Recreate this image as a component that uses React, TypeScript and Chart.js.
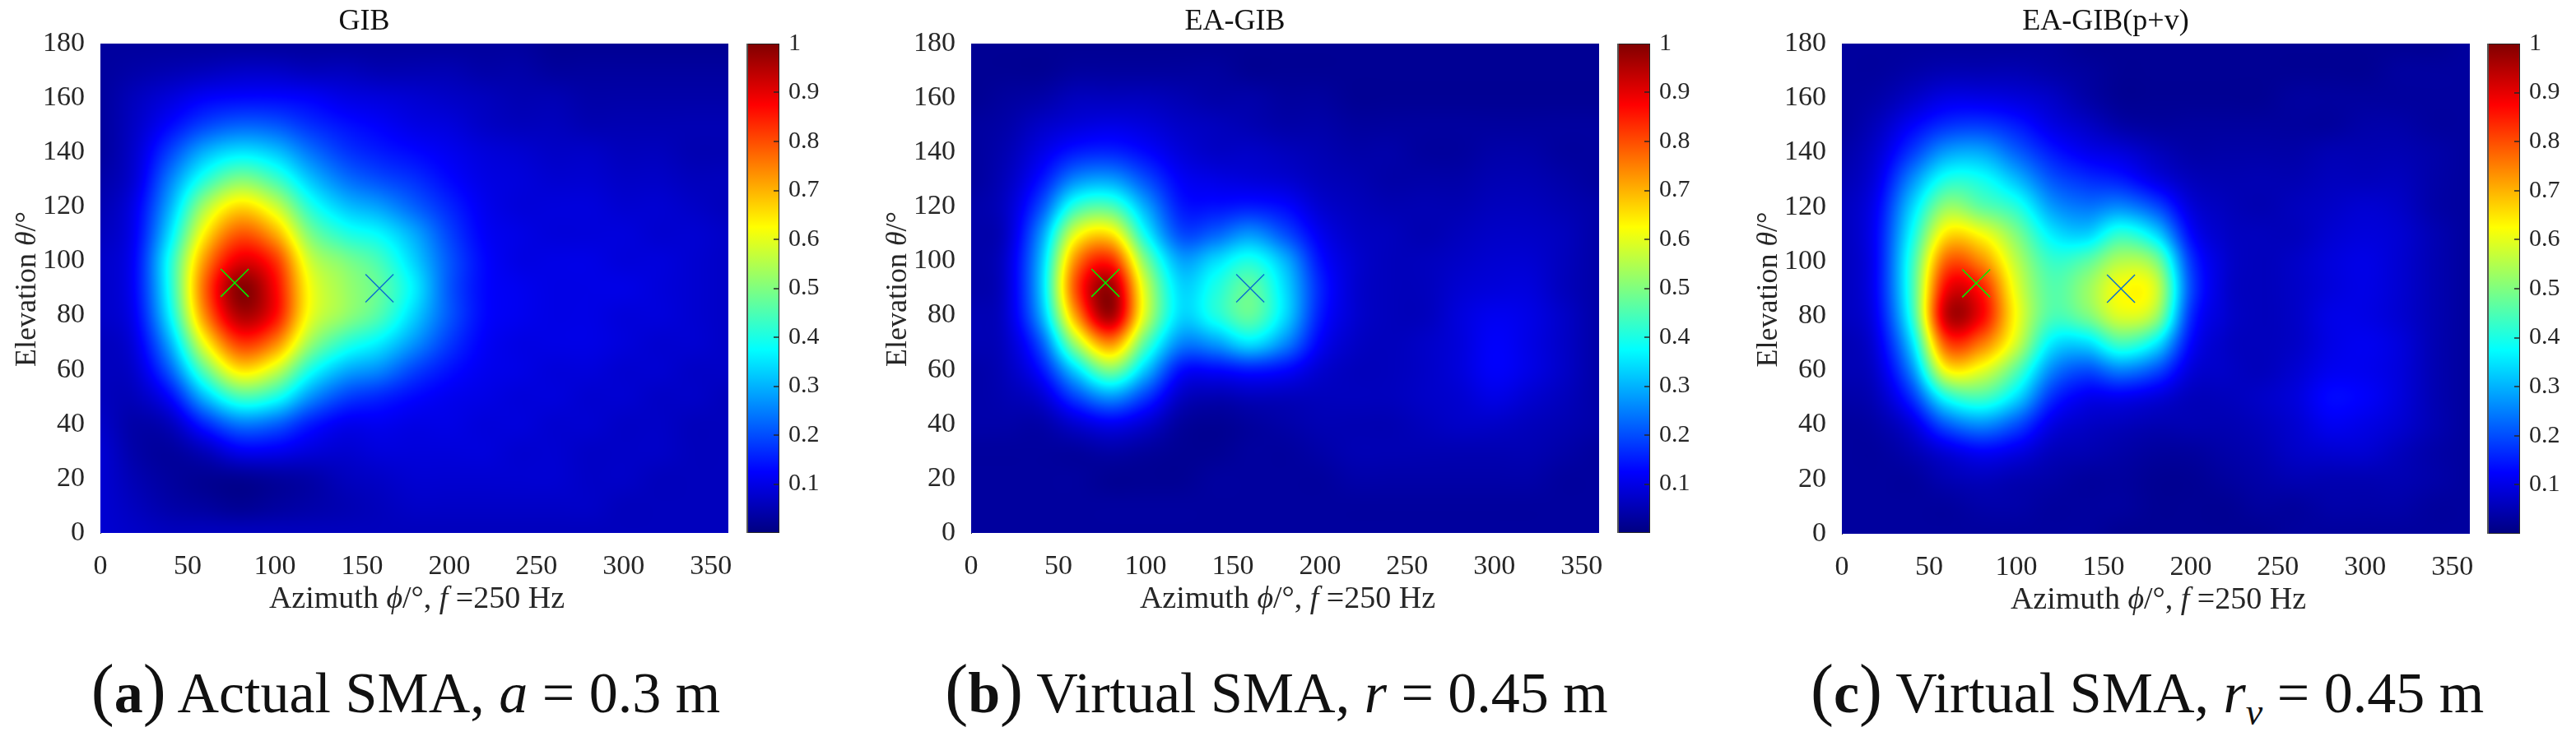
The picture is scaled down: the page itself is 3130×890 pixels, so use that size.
import React, { useEffect, useRef } from "react";
import { Chart, registerables } from "chart.js";

Chart.register(...registerables);

const azimuthNodes = [0, 20, 40, 60, 80, 100, 120, 140, 160, 180, 200, 220, 240, 260, 280, 300, 320, 340, 360];
const elevationNodes = [180, 170, 160, 150, 140, 130, 120, 110, 100, 90, 80, 70, 60, 50, 40, 30, 20, 10, 0];
const azimuthTicks = [0, 50, 100, 150, 200, 250, 300, 350];
const elevationTicks = [0, 20, 40, 60, 80, 100, 120, 140, 160, 180];
const colorbarTicks = [0.1, 0.2, 0.3, 0.4, 0.5, 0.6, 0.7, 0.8, 0.9, 1];
const actualSource = [{ x: 77, y: 92 }];
const secondSource = [{ x: 160, y: 90 }];

const gibValues = [
  [.03, .03, .03, .03, .03, .03, .03, .03, .03, .03, .03, .03, .03, .02, .02, .02, .02, .02, .02],
  [.03, .04, .05, .06, .07, .07, .06, .06, .05, .05, .05, .04, .04, .03, .03, .03, .03, .03, .03],
  [.03, .06, .09, .12, .13, .13, .12, .10, .09, .08, .07, .06, .05, .05, .04, .04, .04, .04, .04],
  [.03, .07, .13, .19, .22, .21, .17, .14, .12, .10, .09, .07, .06, .06, .05, .05, .05, .05, .05],
  [.03, .08, .19, .30, .35, .32, .24, .18, .15, .13, .11, .09, .08, .07, .07, .06, .06, .05, .05],
  [.04, .09, .25, .41, .50, .44, .32, .24, .20, .17, .13, .10, .09, .08, .08, .07, .07, .06, .06],
  [.05, .11, .30, .54, .66, .58, .41, .32, .28, .22, .16, .11, .09, .09, .09, .08, .08, .07, .06],
  [.06, .12, .35, .64, .79, .71, .50, .41, .37, .29, .19, .12, .10, .09, .09, .09, .08, .08, .07],
  [.07, .13, .40, .73, .90, .83, .58, .50, .44, .33, .21, .13, .10, .10, .10, .09, .09, .08, .07],
  [.07, .13, .40, .78, .99, .88, .62, .53, .47, .36, .21, .13, .11, .10, .10, .10, .09, .08, .07],
  [.07, .12, .37, .74, .95, .87, .61, .52, .45, .33, .21, .13, .11, .10, .10, .09, .09, .08, .07],
  [.06, .10, .30, .62, .82, .75, .53, .42, .36, .27, .18, .12, .10, .10, .10, .09, .08, .08, .07],
  [.06, .08, .22, .47, .65, .58, .40, .30, .26, .19, .14, .11, .10, .09, .09, .08, .08, .07, .07],
  [.06, .06, .13, .31, .44, .40, .27, .19, .16, .13, .11, .10, .09, .09, .08, .08, .07, .07, .06],
  [.07, .04, .06, .16, .24, .22, .15, .11, .11, .10, .10, .09, .09, .08, .08, .07, .07, .06, .06],
  [.08, .04, .03, .06, .11, .11, .09, .08, .09, .09, .09, .09, .08, .08, .07, .07, .07, .06, .06],
  [.08, .05, .03, .02, .02, .03, .04, .06, .07, .08, .08, .08, .08, .08, .07, .07, .06, .06, .06],
  [.08, .06, .04, .03, .02, .03, .04, .05, .06, .07, .07, .07, .07, .07, .07, .06, .06, .06, .06],
  [.08, .07, .06, .06, .06, .06, .06, .06, .06, .06, .06, .06, .06, .06, .06, .06, .06, .06, .06],
];

const eaGibValues = [
  [.02, .02, .02, .02, .02, .02, .02, .02, .02, .02, .02, .02, .02, .02, .02, .02, .02, .02, .02],
  [.02, .02, .02, .03, .03, .03, .03, .03, .02, .02, .02, .02, .02, .02, .02, .02, .02, .02, .02],
  [.02, .03, .04, .06, .06, .06, .05, .04, .04, .03, .03, .02, .02, .02, .02, .02, .02, .02, .02],
  [.03, .04, .07, .09, .10, .09, .07, .06, .05, .04, .04, .03, .03, .03, .03, .03, .03, .03, .03],
  [.03, .05, .10, .15, .16, .13, .09, .07, .07, .06, .05, .04, .04, .03, .03, .04, .04, .03, .03],
  [.03, .06, .14, .26, .28, .20, .12, .10, .09, .08, .06, .05, .04, .04, .04, .05, .05, .04, .03],
  [.04, .07, .20, .42, .45, .29, .15, .14, .15, .13, .08, .06, .05, .05, .05, .06, .06, .05, .04],
  [.04, .07, .27, .60, .65, .38, .20, .22, .27, .20, .11, .07, .06, .05, .06, .07, .07, .06, .04],
  [.04, .08, .31, .74, .84, .50, .29, .34, .40, .30, .14, .08, .06, .06, .07, .08, .08, .06, .04],
  [.04, .08, .32, .80, .97, .58, .34, .40, .47, .34, .16, .08, .06, .06, .08, .09, .09, .06, .04],
  [.05, .08, .29, .72, .96, .58, .34, .40, .47, .34, .15, .08, .06, .06, .09, .11, .10, .07, .04],
  [.05, .07, .21, .54, .74, .46, .26, .28, .35, .26, .12, .07, .06, .07, .09, .12, .10, .07, .04],
  [.04, .06, .14, .34, .50, .32, .14, .13, .15, .13, .08, .06, .06, .07, .09, .12, .10, .07, .04],
  [.04, .05, .08, .19, .27, .18, .07, .05, .06, .06, .06, .06, .06, .07, .08, .10, .08, .06, .04],
  [.04, .04, .04, .08, .11, .08, .03, .02, .03, .04, .05, .05, .05, .06, .07, .07, .06, .05, .04],
  [.03, .03, .03, .03, .04, .03, .02, .02, .03, .03, .04, .05, .05, .05, .05, .05, .05, .04, .03],
  [.03, .03, .03, .03, .02, .02, .02, .03, .03, .03, .03, .04, .04, .04, .04, .04, .04, .03, .03],
  [.03, .03, .03, .03, .03, .03, .03, .03, .03, .03, .03, .03, .03, .03, .03, .03, .03, .03, .03],
  [.03, .03, .03, .03, .03, .03, .03, .03, .03, .03, .03, .03, .03, .03, .03, .03, .03, .03, .03],
];

const eaGibPvValues = [
  [.03, .03, .03, .03, .03, .03, .03, .02, .02, .02, .02, .02, .02, .02, .02, .02, .02, .02, .03],
  [.03, .03, .04, .05, .05, .05, .04, .03, .02, .02, .02, .02, .02, .02, .02, .02, .03, .03, .03],
  [.03, .04, .07, .10, .10, .09, .07, .04, .02, .02, .02, .02, .02, .03, .03, .03, .03, .03, .03],
  [.03, .06, .12, .17, .18, .15, .10, .07, .04, .03, .03, .03, .03, .03, .03, .04, .04, .03, .03],
  [.04, .08, .18, .28, .29, .22, .15, .11, .09, .06, .04, .04, .04, .04, .05, .05, .05, .04, .03],
  [.05, .10, .26, .40, .39, .31, .21, .17, .15, .10, .06, .05, .05, .05, .06, .06, .06, .04, .03],
  [.06, .12, .33, .52, .47, .41, .28, .24, .26, .20, .09, .06, .05, .06, .07, .08, .07, .04, .03],
  [.06, .13, .38, .65, .62, .50, .36, .33, .42, .34, .13, .07, .06, .06, .08, .09, .08, .05, .03],
  [.06, .13, .42, .78, .74, .56, .43, .46, .55, .50, .18, .08, .06, .07, .09, .10, .08, .05, .03],
  [.06, .13, .43, .88, .85, .60, .46, .52, .62, .58, .20, .08, .06, .07, .09, .10, .08, .05, .03],
  [.06, .12, .41, .93, .88, .62, .45, .49, .59, .53, .17, .08, .06, .07, .10, .10, .08, .05, .03],
  [.05, .10, .34, .80, .76, .58, .36, .34, .44, .36, .13, .07, .06, .07, .10, .11, .09, .05, .03],
  [.05, .08, .26, .62, .60, .46, .26, .20, .25, .20, .09, .07, .06, .08, .11, .11, .09, .05, .03],
  [.04, .06, .17, .39, .44, .34, .17, .11, .11, .09, .06, .06, .07, .09, .13, .12, .09, .05, .03],
  [.03, .04, .09, .21, .26, .20, .10, .07, .06, .05, .05, .05, .06, .08, .11, .10, .08, .05, .03],
  [.03, .03, .05, .09, .12, .10, .06, .05, .04, .03, .03, .04, .05, .07, .08, .08, .06, .04, .03],
  [.03, .03, .03, .05, .06, .05, .04, .03, .03, .02, .02, .03, .04, .05, .05, .05, .05, .04, .03],
  [.03, .03, .03, .03, .04, .04, .03, .03, .03, .02, .02, .02, .03, .03, .04, .04, .04, .03, .03],
  [.03, .03, .03, .03, .03, .03, .03, .03, .02, .02, .02, .02, .02, .03, .03, .03, .03, .03, .03],
];

const SERIF = '"Liberation Serif"';
const INK = "#262626";

const clamp = (v: number) => Math.max(0, Math.min(1, v));
const jet = (v: number) => [
  255 * clamp(1.5 - Math.abs(4 * v - 3)),
  255 * clamp(1.5 - Math.abs(4 * v - 2)),
  255 * clamp(1.5 - Math.abs(4 * v - 1)),
];
const catmull = (a: number, b: number, c: number, d: number, t: number) =>
  b + 0.5 * t * (c - a + t * (2 * a - 5 * b + 4 * c - d + t * (3 * (b - c) + d - a)));

const heatPlugin = {
  id: "heat",
  beforeDatasetsDraw(chart: any) {
    const { chartArea: a, scales, ctx } = chart;
    const points = chart.data.datasets[0].data;
    const nc = azimuthNodes.length;
    const nr = elevationNodes.length;
    const at = (r: number, c: number) =>
      points[Math.max(0, Math.min(nr - 1, r)) * nc + Math.max(0, Math.min(nc - 1, c))].v;
    const x0 = Math.round(a.left);
    const y0 = Math.round(a.top);
    const w = Math.round(a.right) - x0;
    const h = Math.round(a.bottom) - y0;
    const off = document.createElement("canvas");
    off.width = w;
    off.height = h;
    const octx = off.getContext("2d")!;
    const img = octx.createImageData(w, h);
    const colStep = azimuthNodes[1] - azimuthNodes[0];
    const rowStep = elevationNodes[0] - elevationNodes[1];
    for (let py = 0; py < h; py++) {
      const el = scales.y.getValueForPixel(y0 + py + 0.5);
      const rf = (elevationNodes[0] - el) / rowStep;
      const r0 = Math.floor(rf);
      const tr = rf - r0;
      for (let px = 0; px < w; px++) {
        const az = scales.x.getValueForPixel(x0 + px + 0.5);
        const cf = az / colStep;
        const c0 = Math.floor(cf);
        const tc = cf - c0;
        const rows = [-1, 0, 1, 2].map((dr) =>
          catmull(at(r0 + dr, c0 - 1), at(r0 + dr, c0), at(r0 + dr, c0 + 1), at(r0 + dr, c0 + 2), tc)
        );
        const v = clamp(catmull(rows[0], rows[1], rows[2], rows[3], tr));
        const [R, G, B] = jet(v);
        const i = (py * w + px) * 4;
        img.data[i] = R;
        img.data[i + 1] = G;
        img.data[i + 2] = B;
        img.data[i + 3] = 255;
      }
    }
    octx.putImageData(img, 0, 0);
    ctx.drawImage(off, x0, y0);
  },
};

type Seg = { t: string; i?: boolean };

const drawSegments = (ctx: any, segs: Seg[], size: number) => {
  const font = (s: Seg) => `${s.i ? "italic " : ""}${size}px ${SERIF}`;
  let total = 0;
  segs.forEach((s) => {
    ctx.font = font(s);
    total += ctx.measureText(s.t).width;
  });
  let x = -total / 2;
  ctx.textAlign = "left";
  ctx.textBaseline = "middle";
  ctx.fillStyle = INK;
  segs.forEach((s) => {
    ctx.font = font(s);
    ctx.fillText(s.t, x, 0);
    x += ctx.measureText(s.t).width;
  });
};

const xTitle: Seg[] = [{ t: "Azimuth " }, { t: "ϕ", i: true }, { t: "/°, " }, { t: "f", i: true }, { t: " =250 Hz" }];
const yTitle: Seg[] = [{ t: "Elevation " }, { t: "θ", i: true }, { t: "/°" }];

const axisTitlePlugin = {
  id: "axisTitles",
  afterDraw(chart: any) {
    const { ctx, chartArea: a } = chart;
    ctx.save();
    ctx.translate((a.left + a.right) / 2 + 3, a.bottom + 81);
    drawSegments(ctx, xTitle, 38);
    ctx.restore();
    ctx.save();
    ctx.translate(a.left - 88, (a.top + a.bottom) / 2 + 1);
    ctx.rotate(-Math.PI / 2);
    drawSegments(ctx, yTitle, 36);
    ctx.restore();
  },
};

const colorbarPlugin = {
  id: "colorbarFrame",
  afterDatasetsDraw(chart: any) {
    const { ctx, chartArea: a, scales } = chart;
    ctx.save();
    ctx.strokeStyle = INK;
    ctx.lineWidth = 1;
    ctx.strokeRect(a.left + 0.5, a.top + 0.5, a.right - a.left - 1, a.bottom - a.top - 1);
    ctx.fillStyle = "#555";
    ctx.fillRect(a.left, a.top, 2, a.bottom - a.top);
    ctx.strokeStyle = INK;
    ctx.lineWidth = 1.5;
    colorbarTicks.slice(0, -1).forEach((t) => {
      const y = Math.round(scales.y.getPixelForValue(t));
      ctx.beginPath();
      ctx.moveTo(a.right - 7, y);
      ctx.lineTo(a.right, y);
      ctx.stroke();
    });
    ctx.restore();
  },
};

const useChart = (build: (c: HTMLCanvasElement) => Chart) => {
  const ref = useRef<HTMLCanvasElement>(null);
  useEffect(() => {
    const chart = build(ref.current!);
    return () => chart.destroy();
  }, []);
  return ref;
};

const fixedTicks = (values: number[]) => (scale: any) => {
  scale.ticks = values.map((value) => ({ value }));
};

function Heatmap({ title, values, left, top, right, bottom }: any) {
  const Y_AXIS = 122;
  const X_AXIS = 115;
  const PAD_RIGHT = 40;
  const ref = useChart(
    (canvas) =>
      new Chart(canvas, {
        type: "scatter",
        data: {
          datasets: [
            {
              label: "field",
              data: elevationNodes.flatMap((y, r) => azimuthNodes.map((x, c) => ({ x, y, v: values[r][c] }))),
              pointRadius: 0,
            },
            {
              label: "source 1",
              data: actualSource,
              pointStyle: "crossRot",
              pointRadius: 24,
              borderColor: "#00f000",
              backgroundColor: "#00f000",
              borderWidth: 1.5,
            },
            {
              label: "source 2",
              data: secondSource,
              pointStyle: "crossRot",
              pointRadius: 24,
              borderColor: "#0a6fd0",
              backgroundColor: "#0a6fd0",
              borderWidth: 1.5,
            },
          ],
        },
        options: {
          animation: false,
          responsive: false,
          events: [],
          layout: { padding: { right: PAD_RIGHT, left: 0, top: 0, bottom: 0 } },
          plugins: {
            legend: { display: false },
            tooltip: { enabled: false },
            title: {
              display: true,
              text: title,
              color: "#111",
              font: { family: SERIF, size: 36, weight: "normal", lineHeight: 1 },
              padding: { top: top - 44, bottom: 8 },
            },
          },
          scales: {
            x: {
              type: "linear",
              min: 0,
              max: 360,
              afterBuildTicks: fixedTicks(azimuthTicks),
              afterFit: (s: any) => {
                s.height = X_AXIS;
              },
              grid: { display: false },
              border: { display: false },
              ticks: {
                autoSkip: false,
                maxRotation: 0,
                color: INK,
                padding: 13,
                font: { family: SERIF, size: 34 },
              },
            },
            y: {
              type: "linear",
              min: 0,
              max: 180,
              afterBuildTicks: fixedTicks(elevationTicks),
              afterFit: (s: any) => {
                s.width = Y_AXIS;
              },
              grid: { display: false },
              border: { display: true, color: INK, width: 1 },
              ticks: {
                autoSkip: false,
                color: INK,
                padding: 11,
                font: { family: SERIF, size: 34 },
              },
            },
          },
        },
        plugins: [heatPlugin, axisTitlePlugin],
      } as any)
  );
  return (
    <canvas
      ref={ref}
      width={right - left + Y_AXIS + PAD_RIGHT}
      height={bottom + X_AXIS}
      style={{ position: "absolute", left: left - Y_AXIS, top: 0 }}
    />
  );
}

function Colorbar({ left, right, top, bottom }: any) {
  const AXIS = 70;
  const H = bottom + 40;
  const ref = useChart(
    (canvas) =>
      new Chart(canvas, {
        type: "bar",
        data: {
          labels: ["level"],
          datasets: [
            {
              data: [1],
              barPercentage: 1,
              categoryPercentage: 1,
              backgroundColor: (c: any) => {
                const g = c.chart.ctx.createLinearGradient(0, bottom, 0, top);
                g.addColorStop(0, "rgb(0,0,128)");
                g.addColorStop(0.125, "rgb(0,0,255)");
                g.addColorStop(0.375, "rgb(0,255,255)");
                g.addColorStop(0.625, "rgb(255,255,0)");
                g.addColorStop(0.875, "rgb(255,0,0)");
                g.addColorStop(1, "rgb(128,0,0)");
                return g;
              },
            },
          ],
        },
        options: {
          animation: false,
          responsive: false,
          events: [],
          layout: { padding: { top, bottom: H - bottom, left: 0, right: 0 } },
          plugins: { legend: { display: false }, tooltip: { enabled: false } },
          scales: {
            x: { display: false },
            y: {
              position: "right",
              type: "linear",
              min: 0,
              max: 1,
              afterBuildTicks: fixedTicks(colorbarTicks),
              afterFit: (s: any) => {
                s.width = AXIS;
              },
              grid: { display: false, drawTicks: false },
              border: { display: false },
              ticks: {
                autoSkip: false,
                color: INK,
                padding: 11,
                font: { family: SERIF, size: 30 },
                callback: (v: number) => String(v),
              },
            },
          },
        },
        plugins: [colorbarPlugin],
      } as any)
  );
  return (
    <canvas
      ref={ref}
      width={right - left + AXIS}
      height={H}
      style={{ position: "absolute", left, top: 0 }}
    />
  );
}

const captionStyle = (center: number): React.CSSProperties => ({
  position: "absolute",
  left: center - 500,
  width: 1000,
  top: 805,
  textAlign: "center",
  fontFamily: SERIF,
  fontSize: 70,
  lineHeight: "76px",
  color: "#111",
  whiteSpace: "pre",
});

const paren: React.CSSProperties = { fontSize: 84, lineHeight: 0, fontWeight: 400 };

export default function App() {
  return (
    <div style={{ position: "fixed", left: 0, top: 0, width: 3130, height: 890, background: "#fff", overflow: "hidden" }}>
      <Heatmap title="GIB" values={gibValues} left={122} right={885} top={53} bottom={648} />
      <Colorbar left={907} right={947} top={53} bottom={648} />
      <Heatmap title="EA-GIB" values={eaGibValues} left={1180} right={1943} top={53} bottom={648} />
      <Colorbar left={1965} right={2005} top={53} bottom={648} />
      <Heatmap title="EA-GIB(p+v)" values={eaGibPvValues} left={2238} right={3001} top={53} bottom={649} />
      <Colorbar left={3022} right={3062} top={53} bottom={649} />
      <div style={captionStyle(493)}>
        <span style={paren}>(</span><b>a</b><span style={paren}>)</span> Actual SMA, <i>a</i> = 0.3 m
      </div>
      <div style={captionStyle(1551)}>
        <span style={paren}>(</span><b>b</b><span style={paren}>)</span> Virtual SMA, <i>r</i> = 0.45 m
      </div>
      <div style={captionStyle(2609)}>
        <span style={paren}>(</span><b>c</b><span style={paren}>)</span> Virtual SMA, <i>r</i>
        <sub style={{ fontSize: 46, lineHeight: 0 }}>
          <i>v</i>
        </sub>{" "}
        = 0.45 m
      </div>
    </div>
  );
}
